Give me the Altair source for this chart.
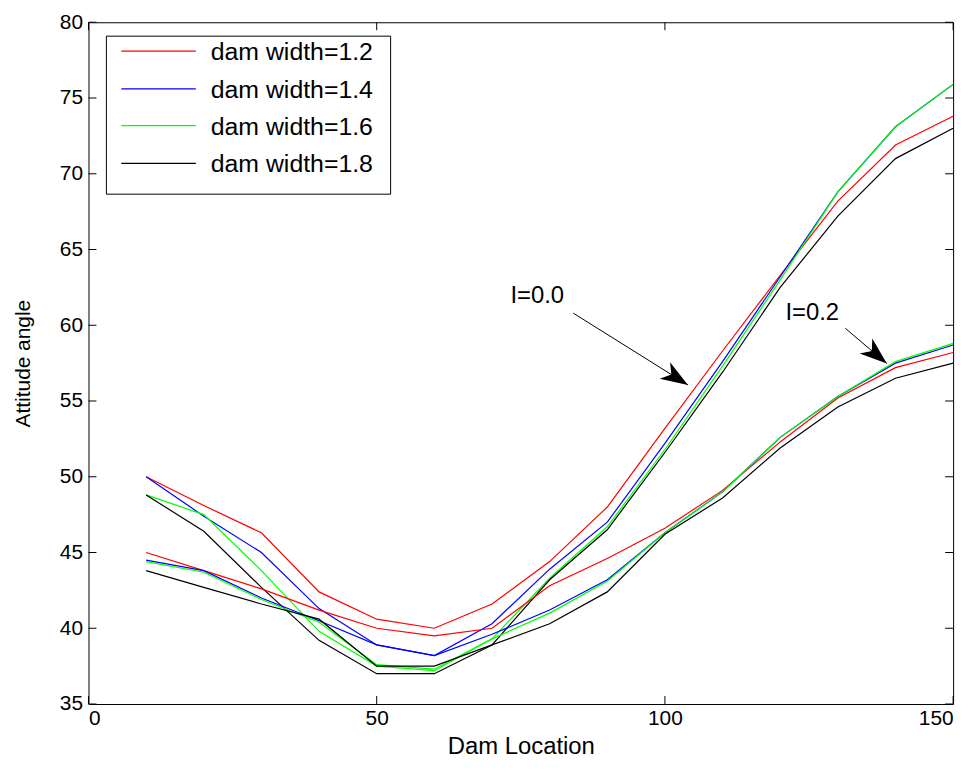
import altair as alt
import pandas as pd

# ---------------- data ----------------
x_loc = [10, 20, 30, 40, 50, 60, 70, 80, 90, 100, 110, 120, 130, 140, 150]
series_names = ["dam width=1.2", "dam width=1.4", "dam width=1.6", "dam width=1.8"]
series_colors = ["#ff0000", "#0000ff", "#00ff00", "#000000"]

# I = 0.0 family
i00_w12 = [50.0, 48.1, 46.3, 42.4, 40.6, 40.0, 41.6, 44.4, 48.0, 53.2, 58.3, 63.3, 68.2, 71.9, 73.8]
i00_w14 = [50.0, 47.4, 45.0, 41.3, 38.9, 38.2, 40.3, 43.9, 47.0, 52.2, 57.6, 63.2, 68.8, 73.1, 75.9]
i00_w16 = [48.8, 47.5, 43.8, 39.8, 37.5, 37.2, 39.3, 43.3, 46.7, 51.8, 57.3, 63.0, 68.8, 73.1, 75.9]
i00_w18 = [48.8, 46.4, 42.7, 39.2, 37.0, 37.0, 38.9, 43.2, 46.5, 51.6, 56.9, 62.5, 67.2, 71.0, 73.0]

# I = 0.2 family
i02_w12 = [45.0, 43.8, 42.6, 41.2, 40.0, 39.5, 40.0, 42.8, 44.6, 46.6, 49.1, 52.3, 55.2, 57.2, 58.2]
i02_w14 = [44.5, 43.8, 42.0, 40.5, 38.9, 38.2, 39.6, 41.2, 43.2, 46.3, 49.0, 52.6, 55.3, 57.5, 58.7]
i02_w16 = [44.4, 43.7, 41.9, 40.4, 37.6, 37.3, 39.3, 41.0, 43.1, 46.3, 49.0, 52.6, 55.3, 57.6, 58.8]
i02_w18 = [43.8, 42.7, 41.6, 40.6, 37.5, 37.5, 38.9, 40.3, 42.4, 46.2, 48.6, 51.9, 54.6, 56.5, 57.5]

x_ticks = [0, 50, 100, 150]
y_ticks = [35, 40, 45, 50, 55, 60, 65, 70, 75, 80]

# annotations
note_text = ["I=0.0", "I=0.2"]
note_x = [73.2, 120.9]
note_y = [61.9, 60.8]
arrow_x1 = [84.1, 131.3]
arrow_y1 = [60.8, 59.8]
arrow_x2 = [104.0, 138.5]
arrow_y2 = [56.06, 57.47]
arrow_angle = [122, 130]

# ---------------- build tables ----------------
rows = []
for grp, lists in (("I=0.0", [i00_w12, i00_w14, i00_w16, i00_w18]),
                   ("I=0.2", [i02_w12, i02_w14, i02_w16, i02_w18])):
    for name, vals in zip(series_names, lists):
        for xv, yv in zip(x_loc, vals):
            rows.append({"x": xv, "y": yv, "series": name, "group": grp})
df = pd.DataFrame(rows)

notes = pd.DataFrame({"x": note_x, "y": note_y, "text": note_text})
arrows = pd.DataFrame({"x": arrow_x1, "y": arrow_y1, "x2": arrow_x2, "y2": arrow_y2,
                       "angle": arrow_angle})
xt = pd.DataFrame({"x": x_ticks})
yt = pd.DataFrame({"y": y_ticks})

W, H = 870, 686
FONT = "Liberation Sans"
TICK = 8

xs = alt.Scale(domain=[0, 150], nice=False, zero=False)
ys = alt.Scale(domain=[35, 80], nice=False, zero=False)

common = dict(grid=False, domain=False, labelFont=FONT, titleFont=FONT,
              labelColor="black", titleColor="black", titleFontWeight="normal")

x_main = alt.Axis(orient="bottom", values=x_ticks, ticks=False, labelPadding=4,
                  labelFontSize=21, title="Dam Location", titleFontSize=24,
                  titlePadding=6, **common)
y_main = alt.Axis(orient="left", values=y_ticks, ticks=False, labelPadding=6,
                  labelFontSize=21, title="Attitude angle", titleFontSize=21,
                  titlePadding=26, **common)

X = lambda f: alt.X(f, scale=xs, axis=x_main)
Y = lambda f: alt.Y(f, scale=ys, axis=y_main)

lines = alt.Chart(df).mark_line(strokeWidth=1.2).encode(
    x=X("x:Q"),
    y=Y("y:Q"),
    color=alt.Color("series:N", scale=alt.Scale(domain=series_names, range=series_colors),
                    legend=None),
    detail="group:N",
    order="x:Q",
)

# inward tick marks on all four sides (MATLAB box style)
xtick_bottom = alt.Chart(xt).mark_rule(color="black", strokeWidth=1).encode(
    x=X("x:Q"), y=alt.value(H), y2=alt.value(H - TICK))
xtick_top = alt.Chart(xt).mark_rule(color="black", strokeWidth=1).encode(
    x=X("x:Q"), y=alt.value(0), y2=alt.value(TICK))
ytick_left = alt.Chart(yt).mark_rule(color="black", strokeWidth=1).encode(
    y=Y("y:Q"), x=alt.value(0), x2=alt.value(TICK))
ytick_right = alt.Chart(yt).mark_rule(color="black", strokeWidth=1).encode(
    y=Y("y:Q"), x=alt.value(W - TICK), x2=alt.value(W))

note_layer = alt.Chart(notes).mark_text(align="left", baseline="middle", font=FONT,
                                        fontSize=24, color="black").encode(
    x=X("x:Q"),
    y=Y("y:Q"),
    text="text:N",
)
arrow_lines = alt.Chart(arrows).mark_rule(color="black", strokeWidth=1).encode(
    x=X("x:Q"),
    y=Y("y:Q"),
    x2="x2:Q",
    y2="y2:Q",
)
arrow_heads = alt.Chart(arrows).mark_point(
    shape="M0,0 L-0.36,1 L0,0.72 L0.36,1 Z", filled=True, color="black",
    opacity=1, size=3000, strokeWidth=0).encode(
    x=X("x2:Q"),
    y=Y("y2:Q"),
    angle=alt.Angle("angle:Q", scale=None),
)

# legend box (drawn as marks inside the plot)
leg_box = alt.Chart(pd.DataFrame({"k": [0]})).mark_rect(
    fill="white", stroke="black", strokeWidth=1).encode(
    x=alt.value(18), x2=alt.value(304), y=alt.value(14), y2=alt.value(173))
leg_layers = []
leg_rows = [29, 67, 104, 142]
for name, col, yy in zip(series_names, series_colors, leg_rows):
    d = pd.DataFrame({"label": [name]})
    leg_layers.append(alt.Chart(d).mark_rule(color=col, strokeWidth=1.2).encode(
        x=alt.value(33), x2=alt.value(108), y=alt.value(yy)))
    leg_layers.append(alt.Chart(d).mark_text(align="left", baseline="middle", font=FONT,
                                             fontSize=25, color="black").encode(
        x=alt.value(123), y=alt.value(yy + 1), text="label:N"))

chart = alt.layer(
    lines, xtick_bottom, xtick_top, ytick_left, ytick_right,
    arrow_lines, arrow_heads, note_layer, leg_box, *leg_layers
).properties(
    width=W, height=H,
    padding={"left": 81, "top": 12, "right": 18, "bottom": 54},
    autosize=alt.AutoSizeParams(type="none"),
    background="white",
).configure_view(
    stroke="black", strokeWidth=1
)

chart.save("out.html", embed_options={"renderer": "svg", "actions": False})
